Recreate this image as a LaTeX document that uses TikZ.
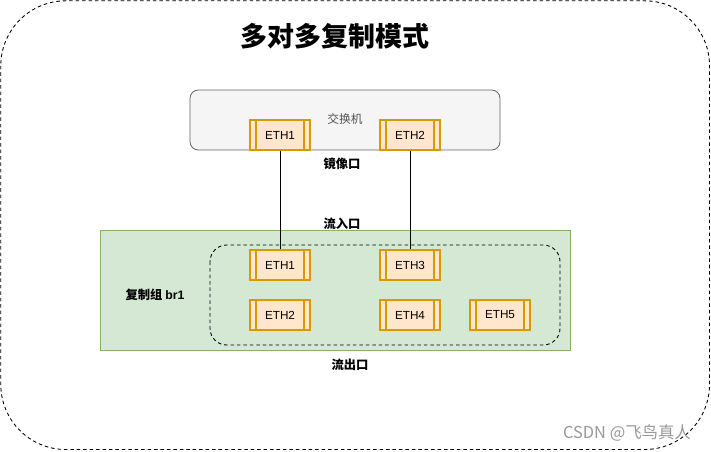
\documentclass[tikz,border=0pt]{standalone}
\usepackage{fontspec}
\setmainfont{Liberation Sans}
\newfontfamily\cjk{Noto Sans CJK SC}
\definecolor{portfill}{HTML}{FFE6CC}
\definecolor{portline}{HTML}{D79B00}
\definecolor{swfill}{HTML}{F5F5F5}
\definecolor{swline}{HTML}{666666}
\definecolor{grpfill}{HTML}{D5E8D4}
\definecolor{grpline}{HTML}{82B366}
\tikzset{
  port/.style={draw=portline, fill=portfill, line width=0.9pt,
    minimum width=1.8cm, minimum height=0.9cm, inner sep=0pt,
    font=\fontsize{10}{12}\selectfont,
    path picture={
      \draw[portline, line width=0.9pt]
        ([xshift=0.18cm]path picture bounding box.north west) --
        ([xshift=0.18cm]path picture bounding box.south west)
        ([xshift=-0.18cm]path picture bounding box.north east) --
        ([xshift=-0.18cm]path picture bounding box.south east);
    }},
  tag/.style={font=\fontsize{10.5}{12}\selectfont\cjk\bfseries},
  frame/.style={line width=0.75pt, dash pattern=on 3pt off 2.5pt}
}
\begin{document}
\begin{tikzpicture}[x=0.03cm, y=-0.03cm]
  \useasboundingbox (0,0) rectangle (711,451);

  % Outer frame
  \draw[frame, rounded corners=1.95cm] (0.8,0.8) rectangle (709.5,449.5);
  \node[font=\fontsize{23}{27}\selectfont\cjk\bfseries] (title) at (335,36) {多对多复制模式};

  % Switch
  \draw[swline, fill=swfill, line width=0.7pt, rounded corners=0.25cm] (190,90) rectangle (500,150);
  \node[swline!80!black, font=\fontsize{10}{12}\selectfont\cjk] (switch) at (345,119) {交换机};
  \node[port] (sw1) at (280,135) {ETH1};
  \node[port] (sw2) at (410,135) {ETH2};
  \node[tag] (mirror) at (342,164) {镜像口};

  % Replication group
  \draw[grpline, fill=grpfill, line width=0.7pt] (100,230) rectangle (570,350);
  \draw[frame, rounded corners=0.5cm] (210,245) rectangle (560,345);
  \node[tag] (inlabel) at (342,224) {流入口};
  \node[tag] (group) at (155,295) {复制组 {\rmfamily\bfseries br1}};
  \node[tag] (outlabel) at (350,365) {流出口};

  \node[port] (g1) at (280,265) {ETH1};
  \node[port] (g3) at (410,265) {ETH3};
  \node[port] (g2) at (280,315) {ETH2};
  \node[port] (g4) at (410,315) {ETH4};
  \node[port] (g5) at (500,315) {ETH5};

  % Links
  \draw[line width=0.6pt] (sw1.south) -- (g1.north);
  \draw[line width=0.6pt] (sw2.south) -- (g3.north);

  % Watermark
  \node[gray!80, font=\fontsize{14}{16}\selectfont\cjk] (mark) at (627,433) {CSDN @飞鸟真人};
\end{tikzpicture}
\end{document}
